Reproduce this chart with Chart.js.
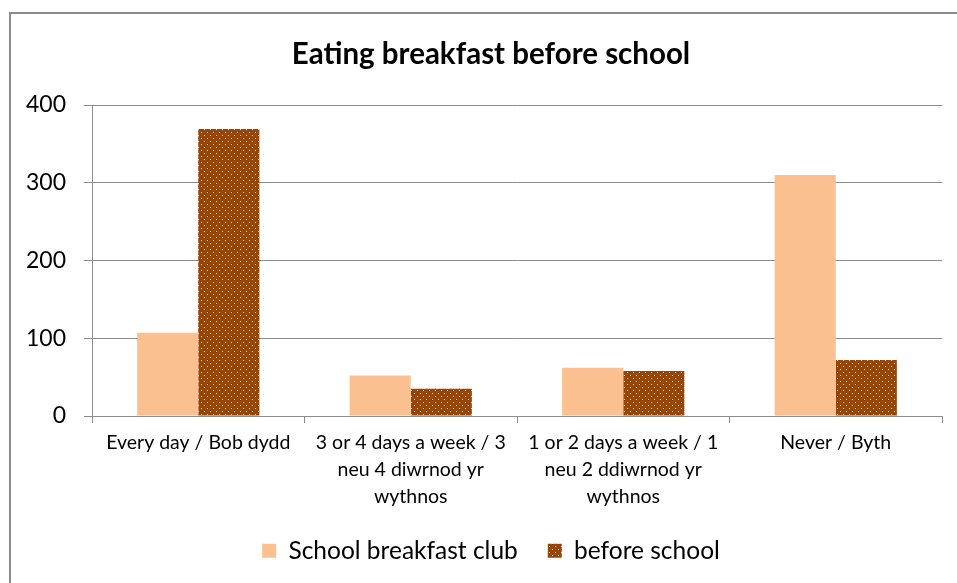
<!DOCTYPE html>
<html>
<head>
<meta charset="utf-8">
<script src="https://cdn.jsdelivr.net/npm/chart.js@4.4.1/dist/chart.umd.min.js"></script>
<style>
  html, body { margin: 0; padding: 0; background: #fff; overflow: hidden; }
  #frame {
    position: absolute; left: 9px; top: 12px;
    width: 960px; height: 580px;
    border-left: 2px solid #8a8a8a; border-top: 2px solid #8a8a8a;
  }
  #wrap { position: relative; width: 960px; height: 569px; }
</style>
</head>
<body>
<div id="frame">
  <div id="wrap"><canvas id="chart"></canvas></div>
</div>
<script>
// categories (multi-line labels as in the original)
const categories = [
  ['Every day / Bob dydd'],
  ['3 or 4 days a week / 3', 'neu 4 diwrnod yr', 'wythnos'],
  ['1 or 2 days a week / 1', 'neu 2 ddiwrnod yr', 'wythnos'],
  ['Never / Byth']
];
const seriesNames = ['School breakfast club', 'before school'];
const breakfastClub = [107, 52, 62, 310];
const beforeSchool = [369, 35, 58, 72];
const yTicks = [0, 100, 200, 300, 400];

// dotted brown fill, like the office "small confetti" pattern
function dotPattern() {
  const c = document.createElement('canvas');
  c.width = 6; c.height = 6;
  const g = c.getContext('2d');
  g.fillStyle = '#964609';
  g.fillRect(0, 0, 6, 6);
  g.fillStyle = '#f1ddc8';
  g.fillRect(1, 1, 1, 1);
  g.fillRect(4, 4, 1, 1);
  return g.createPattern(c, 'repeat');
}

const fontFamily = 'Lato, "Open Sans", sans-serif';
const gridColor = '#8c8c8c';

const ctx = document.getElementById('chart').getContext('2d');
new Chart(ctx, {
  type: 'bar',
  data: {
    labels: categories,
    datasets: [
      {
        label: seriesNames[0],
        data: breakfastClub,
        backgroundColor: '#fac090',
        barPercentage: 1,
        categoryPercentage: 0.575
      },
      {
        label: seriesNames[1],
        data: beforeSchool,
        backgroundColor: dotPattern(),
        barPercentage: 1,
        categoryPercentage: 0.575
      }
    ]
  },
  options: {
    responsive: true,
    maintainAspectRatio: false,
    animation: false,
    layout: { padding: { left: 0, right: 0, top: 0, bottom: 10 } },
    plugins: {
      tooltip: { enabled: false },
      title: {
        display: true,
        text: 'Eating breakfast before school',
        color: '#000',
        font: { family: fontFamily, size: 29.5, weight: 'bold' },
        padding: { top: 23, bottom: 32.6 }
      },
      legend: {
        position: 'bottom',
        labels: {
          color: '#000',
          boxWidth: 14,
          boxHeight: 14,
          padding: 30,
          font: { family: fontFamily, size: 24.5 }
        }
      }
    },
    scales: {
      x: {
        // tall enough that the third label line keeps its descenders
        afterFit: scale => { scale.height = 92.5; },
        grid: {
          offset: true,
          drawOnChartArea: false,
          tickLength: 7,
          color: gridColor
        },
        border: { color: gridColor },
        ticks: {
          color: '#000',
          padding: 6,
          maxRotation: 0,
          autoSkip: false,
          font: { family: fontFamily, size: 19.5, lineHeight: 1.385 }
        }
      },
      y: {
        min: 0,
        max: 400,
        afterFit: scale => { scale.width = 81; },
        afterBuildTicks: scale => { scale.ticks = yTicks.map(v => ({ value: v })); },
        grid: { color: gridColor, tickLength: 8 },
        border: { color: gridColor },
        ticks: {
          color: '#000',
          padding: 18,
          font: { family: fontFamily, size: 23 }
        }
      },
      // empty right margin so the title and legend stay centred on the whole frame
      spacer: {
        type: 'linear',
        position: 'right',
        afterFit: scale => { scale.width = 29; },
        grid: { display: false },
        border: { display: false },
        ticks: { display: false }
      }
    }
  }
});
</script>
</body>
</html>
